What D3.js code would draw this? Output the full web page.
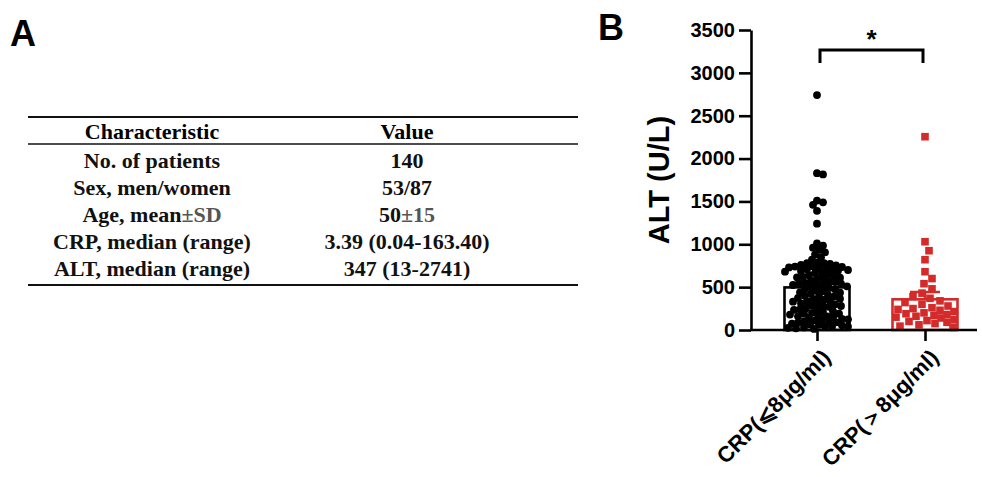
<!DOCTYPE html>
<html>
<head>
<meta charset="utf-8">
<script src="https://cdn.jsdelivr.net/npm/d3@7"></script>
<style>
  body { margin: 0; background: #fff; }
  svg { display: block; }
</style>
</head>
<body>
<div id="chart"></div>
<script>
// ---- data ----
var characteristics = ["No. of patients", "Sex, men/women", "Age, mean\u00b1SD", "CRP, median (range)", "ALT, median (range)"];
var values = ["140", "53/87", "50\u00b115", "3.39 (0.04-163.40)", "347 (13-2741)"];

var groups = ["CRP(\u2a7d8\u03bcg/ml)", "CRP(\uff1e8\u03bcg/ml)"];
var groupMeans = [497, 358];
var groupSem = [45, 85];
var altLow = [2741, 1830, 1815, 1510, 1490, 1460, 1390, 1240, 1010, 985, 960, 935, 905, 880, 850, 820,
  790, 780, 780, 770, 760, 755, 745, 740, 735, 730, 720, 715, 710, 705, 700, 690, 690, 680,
  665, 660, 650, 640, 630, 620, 615, 610, 600,
  590, 575, 570, 560, 550, 545, 540, 530, 525, 520, 510, 500,
  490, 480, 475, 460, 450, 440, 435, 425, 410, 400,
  395, 390, 375, 365, 360, 350, 340, 335, 330, 320, 310, 300,
  290, 280, 280, 270, 255, 245, 240, 235, 220, 210, 200,
  190, 190, 180, 170, 160, 160, 150, 140, 130, 125, 120, 110, 100,
  95, 90, 85, 75, 65, 60, 55, 45, 40, 35, 30, 25, 20, 13];
var altHigh = [2255, 1030, 925, 820, 680, 600, 540, 480, 430,
  390, 370, 340, 320, 300, 280, 260, 250, 240, 230, 215, 200, 190, 180, 170, 160,
  150, 140, 120, 110, 100, 90, 75, 60, 45, 30];

var svg = d3.select("#chart").append("svg")
  .attr("width", 982)
  .attr("height", 477);

// panel letters
svg.append("text").attr("x", 10).attr("y", 46)
  .style("font", "bold 36px 'Liberation Sans', Arial, sans-serif").text("A");
svg.append("text").attr("x", 598).attr("y", 40)
  .style("font", "bold 36px 'Liberation Sans', Arial, sans-serif").text("B");

// ---- table (panel A) ----
var tbl = svg.append("g");
var col1 = 152, col2 = 407, rowTop = 131, rowStep = 27;
var serif = "bold 22px 'Liberation Serif', 'Times New Roman', serif";

tbl.append("line").attr("x1", 28).attr("x2", 578).attr("y1", 117).attr("y2", 117)
  .attr("stroke", "#111").attr("stroke-width", 2.2);
tbl.append("line").attr("x1", 28).attr("x2", 578).attr("y1", 144).attr("y2", 144)
  .attr("stroke", "#111").attr("stroke-width", 1.6);
tbl.append("line").attr("x1", 28).attr("x2", 578).attr("y1", 285).attr("y2", 285)
  .attr("stroke", "#111").attr("stroke-width", 2.2);

tbl.append("text").attr("x", col1).attr("y", rowTop).attr("dy", "0.35em")
  .attr("text-anchor", "middle").style("font", serif).text("Characteristic");
tbl.append("text").attr("x", col2).attr("y", rowTop).attr("dy", "0.35em")
  .attr("text-anchor", "middle").style("font", serif).text("Value");

function addCell(x, y, str) {
  var t = tbl.append("text").attr("x", x).attr("y", y).attr("dy", "0.35em")
    .attr("text-anchor", "middle").style("font", serif).attr("fill", "#111");
  var k = str.indexOf("\u00b1");
  if (k < 0) { t.text(str); return; }
  t.append("tspan").text(str.slice(0, k));
  t.append("tspan").attr("fill", "#555").text(str.slice(k));
}
characteristics.forEach(function(c, i) {
  var y = rowTop + 29 + i * rowStep;
  addCell(col1, y, c);
  addCell(col2, y, values[i]);
});

// ---- scatter bar chart (panel B) ----
var sans = "'Liberation Sans', Arial, sans-serif";
var y = d3.scaleLinear().domain([0, 3500]).range([330, 30]);
var x = d3.scalePoint().domain(groups).range([817, 925]);
var barW = 65;
var colors = ["#000", "#d42a2a"];

var yAxis = svg.append("g")
  .attr("transform", "translate(751,0)")
  .call(d3.axisLeft(y).tickValues(d3.range(0, 3501, 500)).tickFormat(d3.format("d"))
    .tickSize(12).tickPadding(4).tickSizeOuter(0));
yAxis.selectAll("path, line").attr("stroke", "#000").attr("stroke-width", 2.6);
yAxis.selectAll("text").style("font", "bold 20px " + sans).attr("fill", "#000");

svg.append("text")
  .attr("transform", "translate(669,180) rotate(-90)")
  .attr("text-anchor", "middle")
  .style("font", "bold 29px " + sans)
  .text("ALT (U/L)");

// bars (mean) behind points
groups.forEach(function(g, i) {
  svg.append("rect")
    .attr("x", x(g) - barW / 2)
    .attr("y", y(groupMeans[i]))
    .attr("width", barW)
    .attr("height", y(0) - y(groupMeans[i]))
    .attr("fill", "#fff")
    .attr("stroke", colors[i])
    .attr("stroke-width", 2.6);
});

// simple beeswarm: closest free horizontal offset, else least-crowded one
function swarm(vals, r, maxOff, overlap) {
  var placed = [];
  var order = vals.map(function(v, i) { return i; })
    .sort(function(a, b) { return vals[b] - vals[a]; });
  var out = new Array(vals.length);
  var minD = 2 * r * overlap;
  order.forEach(function(i) {
    var py = y(vals[i]);
    var best = 0, bestScore = -1, found = false;
    for (var s = 0; s <= maxOff && !found; s += 1) {
      var cands = s === 0 ? [0] : [s, -s];
      for (var c = 0; c < cands.length; c++) {
        var dmin = Infinity;
        placed.forEach(function(p) {
          var d = Math.hypot(p[0] - cands[c], p[1] - py);
          if (d < dmin) dmin = d;
        });
        if (dmin >= minD) { best = cands[c]; found = true; break; }
        if (dmin > bestScore) { bestScore = dmin; best = cands[c]; }
      }
    }
    out[i] = best;
    placed.push([best, py]);
  });
  return out;
}

var r = 3.9;
var offLow = swarm(altLow, r, 32, 0.75);
svg.append("g").selectAll("circle")
  .data(altLow)
  .enter().append("circle")
  .attr("cx", function(d, i) { return x(groups[0]) + offLow[i]; })
  .attr("cy", function(d) { return y(d); })
  .attr("r", r)
  .attr("fill", colors[0]);

var sq = 7.6;
var offHigh = swarm(altHigh, sq / 2, 29, 1.25);
svg.append("g").selectAll("rect")
  .data(altHigh)
  .enter().append("rect")
  .attr("x", function(d, i) { return x(groups[1]) + offHigh[i] - sq / 2; })
  .attr("y", function(d) { return y(d) - sq / 2; })
  .attr("width", sq)
  .attr("height", sq)
  .attr("fill", colors[1]);

// error bars (SEM)
groups.forEach(function(g, i) {
  var cx = x(g), top = y(groupMeans[i] + groupSem[i]);
  svg.append("path")
    .attr("d", "M" + cx + "," + y(groupMeans[i]) + "V" + top + "M" + (cx - 15) + "," + top + "H" + (cx + 15))
    .attr("fill", "none")
    .attr("stroke", colors[i])
    .attr("stroke-width", 2.6);
});

// x axis
svg.append("line")
  .attr("x1", 750).attr("x2", 977)
  .attr("y1", y(0)).attr("y2", y(0))
  .attr("stroke", "#000").attr("stroke-width", 2.6);
var xAxis = svg.append("g")
  .attr("transform", "translate(0," + y(0) + ")")
  .call(d3.axisBottom(x).tickSize(11).tickSizeOuter(0).tickFormat(""));
xAxis.select(".domain").remove();
xAxis.selectAll("line").attr("stroke", "#000").attr("stroke-width", 2.6);

groups.forEach(function(g) {
  svg.append("text")
    .attr("transform", "translate(" + (x(g) + 4) + "," + (y(0) + 18) + ") rotate(-45)")
    .attr("text-anchor", "end")
    .attr("dy", "0.7em")
    .style("font", "bold 22px " + sans)
    .text(g);
});

// significance bracket
var bx1 = x(groups[0]) + 3, bx2 = x(groups[1]) - 2;
svg.append("path")
  .attr("d", "M" + bx1 + ",63V50H" + bx2 + "V63")
  .attr("fill", "none")
  .attr("stroke", "#000")
  .attr("stroke-width", 3);
svg.append("text")
  .attr("x", (bx1 + bx2) / 2).attr("y", 48)
  .attr("text-anchor", "middle")
  .style("font", "bold 26px " + sans)
  .text("*");
</script>
</body>
</html>
